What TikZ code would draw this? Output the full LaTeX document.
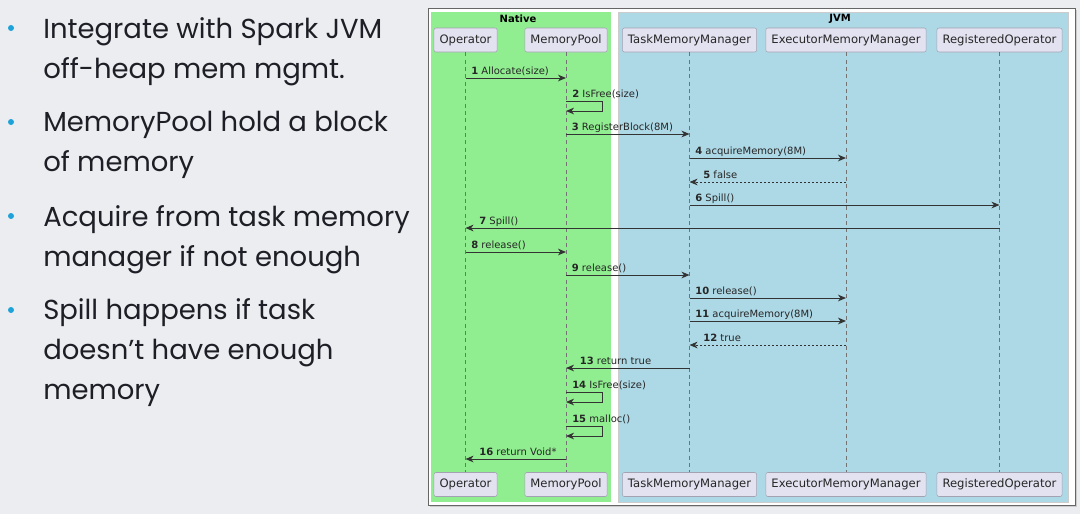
\documentclass[tikz,border=0pt]{standalone}
\usepackage{fontspec}
\setmainfont{DejaVu Sans}
\newfontfamily\slidefont{Poppins}
\usetikzlibrary{arrows.meta,positioning,calc}
\usepackage{xcolor}

\definecolor{slidebg}{HTML}{ECEDF1}
\definecolor{slideink}{HTML}{1E1F26}
\definecolor{bulletblue}{HTML}{1EA3D8}
\definecolor{nativegreen}{HTML}{90EE90}
\definecolor{jvmblue}{HTML}{ADD8E6}
\definecolor{partfill}{HTML}{E2E2F0}
\definecolor{partline}{HTML}{A2A2B2}
\definecolor{msgline}{HTML}{333333}

\begin{document}
\begin{tikzpicture}[x=0.75pt, y=-0.75pt, every node/.style={font=\fontsize{7.5}{9}\selectfont, inner sep=0pt}]
\tikzset{part/.style={draw=partline, fill=partfill, rounded corners=1.5pt, minimum height=18pt, inner xsep=4.2pt, font=\fontsize{8.7}{10}\selectfont, text=black!85}}
\tikzset{lifeline/.style={draw=black!55, dash pattern=on 3pt off 2.5pt, line width=0.5pt}}
\tikzset{msg/.style={draw=msgline, line width=0.75pt, -{Stealth[length=6pt, width=5pt, inset=1.8pt]}}}
\tikzset{reply/.style={msg, dash pattern=on 1.5pt off 1.5pt}}
\tikzset{lbl/.style={anchor=base west, text=black!85}}
\tikzset{pointtext/.style={anchor=base west, align=left, text=slideink, font=\slidefont\fontsize{20.6}{30}\selectfont}}
\tikzset{dot/.style={circle, fill=bulletblue, minimum size=4.5pt}}

% slide background
\fill[slidebg] (0,0) rectangle (1080,514);
\useasboundingbox (0,0) rectangle (1080,514);

% bullet points (anchored at the baseline of the last line)
\node[dot] (d1) at (11,28) {};
\node[dot] (d2) at (11,122) {};
\node[dot] (d3) at (11,216) {};
\node[dot] (d4) at (11,310) {};
\node[pointtext] (p1) at (43,78) {Integrate with Spark JVM\\off-heap mem mgmt.};
\node[pointtext] (p2) at (43,171) {MemoryPool hold a block\\of memory};
\node[pointtext] (p3) at (43,266) {Acquire from task memory\\manager if not enough};
\node[pointtext] (p4) at (43,399) {Spill happens if task\\doesn’t have enough\\memory};

% diagram frame and groups
\fill[black!20] (430,10) rectangle (1077,507);
\draw[draw=black!60, fill=white, line width=0.75pt] (428,8) rectangle (1075,505);
\fill[nativegreen] (431,12) rectangle (611,502);
\draw[draw=black!20, fill=jvmblue] (618,12) rectangle (1068,502);
\node[font=\bfseries\fontsize{7.5}{9}\selectfont] (native) at (518,19) {Native};
\node[font=\bfseries\fontsize{7.5}{9}\selectfont] (jvm) at (840,19) {JVM};

% participants
\node[part] (op) at (465.5,40) {Operator};
\node[part] (mp) at (566,40) {MemoryPool};
\node[part] (tmm) at (689.5,40) {TaskMemoryManager};
\node[part] (emm) at (846,40) {ExecutorMemoryManager};
\node[part] (ro) at (999.5,40) {RegisteredOperator};
\node[part] (opB) at (465.5,484.5) {Operator};
\node[part] (mpB) at (566,484.5) {MemoryPool};
\node[part] (tmmB) at (689.5,484.5) {TaskMemoryManager};
\node[part] (emmB) at (846,484.5) {ExecutorMemoryManager};
\node[part] (roB) at (999.5,484.5) {RegisteredOperator};
\foreach \p in {op,mp,tmm,emm,ro}
  \draw[lifeline] (\p) -- (\p B);

% messages
\draw[msg] (op |- 0,78) -- (mp |- 0,78) node[lbl, pos=0, xshift=4pt, yshift=3pt] {\textbf{1} Allocate(size)};
\draw[msg] (mp |- 0,101) -- ++(36,0) -- ++(0,10) -- (mp |- 0,111);
\node[lbl] (m2) at (572,97) {\textbf{2} IsFree(size)};
\draw[msg] (mp |- 0,134) -- (tmm |- 0,134) node[lbl, pos=0, xshift=4pt, yshift=3pt] {\textbf{3} RegisterBlock(8M)};
\draw[msg] (tmm |- 0,158) -- (emm |- 0,158) node[lbl, pos=0, xshift=4pt, yshift=3pt] {\textbf{4} acquireMemory(8M)};
\draw[reply] (emm |- 0,182) -- (tmm |- 0,182) node[lbl, pos=1, xshift=10pt, yshift=3pt] {\textbf{5} false};
\draw[msg] (tmm |- 0,205) -- (ro |- 0,205) node[lbl, pos=0, xshift=4pt, yshift=3pt] {\textbf{6} Spill()};
\draw[msg] (ro |- 0,228) -- (op |- 0,228) node[lbl, pos=1, xshift=10pt, yshift=3pt] {\textbf{7} Spill()};
\draw[msg] (op |- 0,252) -- (mp |- 0,252) node[lbl, pos=0, xshift=4pt, yshift=3pt] {\textbf{8} release()};
\draw[msg] (mp |- 0,275) -- (tmm |- 0,275) node[lbl, pos=0, xshift=4pt, yshift=3pt] {\textbf{9} release()};
\draw[msg] (tmm |- 0,298) -- (emm |- 0,298) node[lbl, pos=0, xshift=4pt, yshift=3pt] {\textbf{10} release()};
\draw[msg] (tmm |- 0,321) -- (emm |- 0,321) node[lbl, pos=0, xshift=4pt, yshift=3pt] {\textbf{11} acquireMemory(8M)};
\draw[reply] (emm |- 0,345) -- (tmm |- 0,345) node[lbl, pos=1, xshift=10pt, yshift=3pt] {\textbf{12} true};
\draw[msg] (tmm |- 0,368) -- (mp |- 0,368) node[lbl, pos=1, xshift=10pt, yshift=3pt] {\textbf{13} return true};
\draw[msg] (mp |- 0,392) -- ++(36,0) -- ++(0,10) -- (mp |- 0,402);
\node[lbl] (m14) at (572,388) {\textbf{14} IsFree(size)};
\draw[msg] (mp |- 0,426) -- ++(36,0) -- ++(0,10) -- (mp |- 0,436);
\node[lbl] (m15) at (572,422) {\textbf{15} malloc()};
\draw[msg] (mp |- 0,459) -- (op |- 0,459) node[lbl, pos=1, xshift=10pt, yshift=3pt] {\textbf{16} return Void*};
\end{tikzpicture}
\end{document}
